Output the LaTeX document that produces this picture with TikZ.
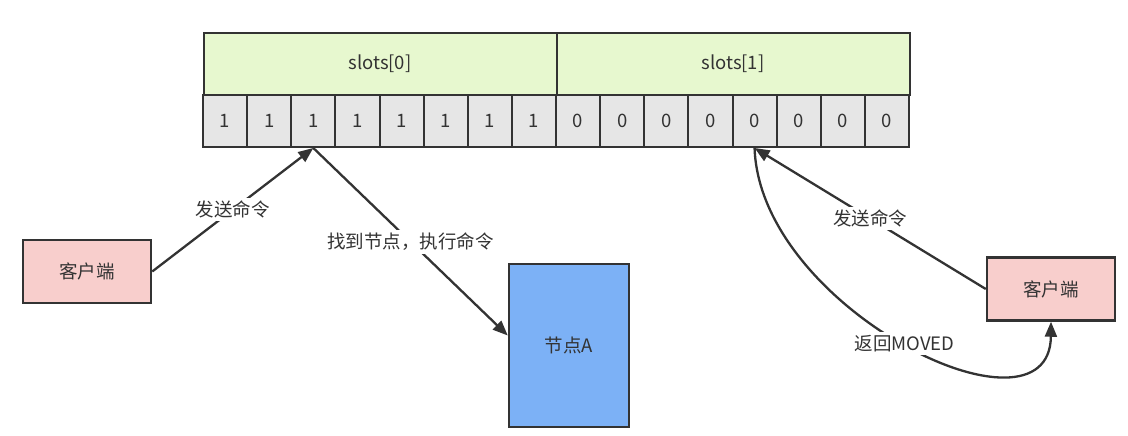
\documentclass[tikz,border=0pt]{standalone}
\usepackage{fontspec}
\setmainfont{Noto Sans CJK SC}
\usetikzlibrary{arrows.meta, positioning}
\definecolor{slotgreen}{HTML}{E7F8CF}
\definecolor{cellgray}{HTML}{E6E6E6}
\definecolor{clientpink}{HTML}{F8CECC}
\definecolor{nodeblue}{HTML}{7CB1F6}
\definecolor{linegray}{HTML}{333333}

\begin{document}
\begin{tikzpicture}[
    x=1pt, y=-1pt,
    font=\fontsize{18.5}{21}\selectfont,
    every node/.style={text=linegray},
    slot/.style={draw=linegray, line width=2pt, fill=slotgreen, minimum width=353pt, minimum height=62pt, inner sep=0pt},
    cell/.style={draw=linegray, line width=2pt, fill=cellgray, minimum width=44.125pt, minimum height=52pt, inner sep=0pt},
    client/.style={draw=linegray, line width=2.5pt, fill=clientpink, minimum width=128pt, minimum height=63pt},
    server/.style={draw=linegray, line width=2.5pt, fill=nodeblue, minimum width=120pt, minimum height=163pt},
    arrow/.style={-{Triangle[length=15pt, width=12pt]}, line width=2.3pt, draw=linegray},
    lbl/.style={fill=white, inner sep=3pt}
]
    \useasboundingbox (0,0) rectangle (1128,436);

    % slot headers
    \node[slot] (s0) at (380,64) {slots[0]};
    \node[slot] (s1) at (733,64) {slots[1]};

    % bit cells
    \foreach \i in {0,...,15} {
        \pgfmathtruncatemacro{\bit}{\i<8 ? 1 : 0}
        \node[cell] (c\i) at ({203+44.125*(\i+0.5)},121) {\bit};
    }

    \node[client] (cl) at (87,271.5) {客户端};
    \node[server] (na) at (569,345.5) {节点A};
    \node[client] (cr) at (1051,289) {客户端};

    \draw[arrow] (cl.east) -- node[lbl] {发送命令} (c2.south);
    \draw[arrow] (c2.south) -- node[lbl] {找到节点，执行命令} ([yshift=10pt]na.west);
    \draw[arrow] (cr.west) -- node[lbl] {发送命令} (c12.south);
    \draw[arrow] (c12.south) .. controls (760,310) and (1050,450) .. node[lbl, pos=0.5] {返回MOVED} (cr.south);
\end{tikzpicture}
\end{document}
